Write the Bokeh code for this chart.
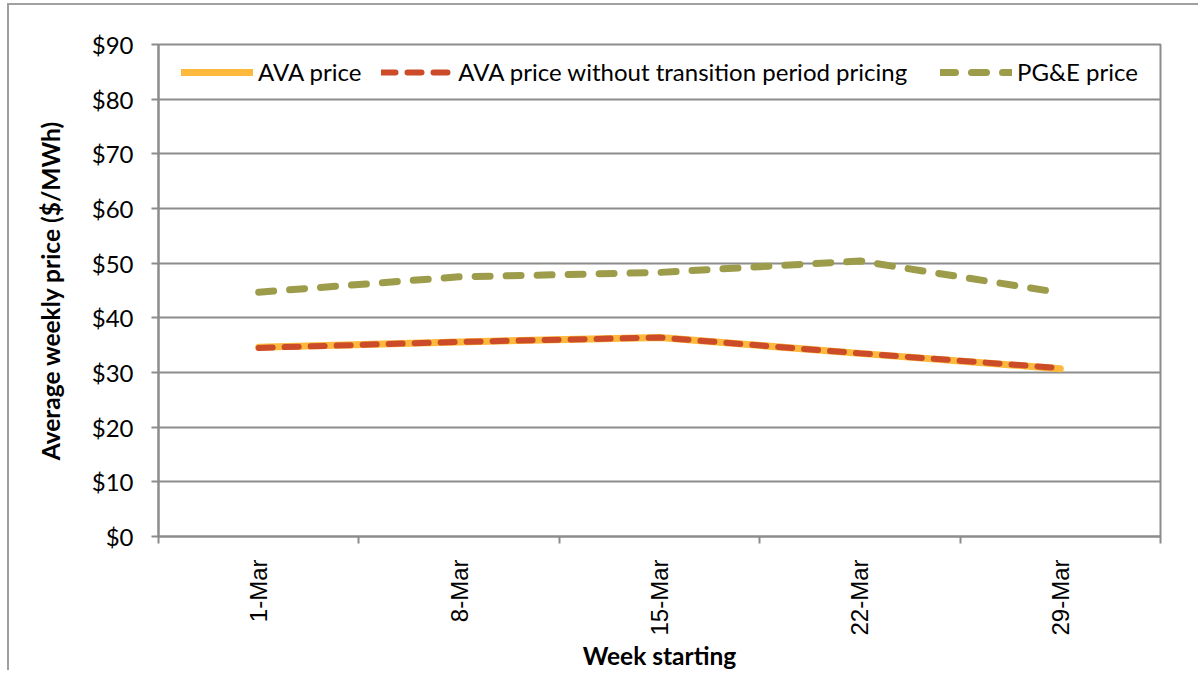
import math
from bokeh.plotting import figure
from bokeh.models import Range1d, FixedTicker, NumeralTickFormatter, Legend, LegendItem, ColumnDataSource
from bokeh.embed import file_html
from bokeh.resources import INLINE

weeks = ["1-Mar", "8-Mar", "15-Mar", "22-Mar", "29-Mar"]
ava_price = [34.6, 35.6, 36.4, 33.5, 30.7]
ava_no_transition = [34.5, 35.6, 36.4, 33.5, 30.8]
pge_price = [44.7, 47.5, 48.3, 50.4, 44.6]
y_ticks = [0, 10, 20, 30, 40, 50, 60, 70, 80, 90]

xs = [i + 0.5 for i in range(len(weeks))]
src = ColumnDataSource(dict(x=xs, ava=ava_price, avn=ava_no_transition, pge=pge_price))

GRAY = "#8c8c8c"
FONT = "Lato"

p = figure(width=1191, height=667, output_backend="svg", toolbar_location=None,
           x_range=Range1d(0, len(weeks)), y_range=Range1d(0, 90),
           min_border_left=149, min_border_right=40, min_border_top=39, min_border_bottom=135)
p.styles = {"margin-left": "7px", "margin-top": "3px",
            "border-left": "2px solid #a0a0a0", "border-top": "2px solid #a0a0a0"}

p.outline_line_color = GRAY
p.outline_line_width = 2
p.xgrid.grid_line_color = None
p.ygrid.grid_line_color = GRAY
p.ygrid.grid_line_width = 2
p.ygrid.ticker = FixedTicker(ticks=y_ticks)

# y axis
yax = p.yaxis[0]
yax.ticker = FixedTicker(ticks=y_ticks)
yax.formatter = NumeralTickFormatter(format="$0")
yax.axis_line_color = GRAY
yax.axis_line_width = 2
yax.major_tick_line_color = GRAY
yax.major_tick_line_width = 2
yax.major_tick_in = 0
yax.major_tick_out = 7
yax.minor_tick_line_color = None
yax.major_label_standoff = 18
yax.major_label_text_font = FONT
yax.major_label_text_font_size = "24px"
yax.major_label_text_color = "#000000"
yax.axis_label = "Average weekly price ($/MWh)"
yax.axis_label_text_font = FONT
yax.axis_label_text_font_style = "bold"
yax.axis_label_text_font_size = "24.5px"
yax.axis_label_text_color = "#000000"
yax.axis_label_standoff = 24

# x axis
xax = p.xaxis[0]
xax.ticker = FixedTicker(ticks=xs, minor_ticks=list(range(len(weeks) + 1)))
xax.major_label_overrides = {x: w for x, w in zip(xs, weeks)}
xax.major_label_orientation = math.pi / 2
xax.axis_line_color = GRAY
xax.axis_line_width = 2
xax.major_tick_line_color = None
xax.major_tick_in = 0
xax.major_tick_out = 0
xax.minor_tick_line_color = GRAY
xax.minor_tick_line_width = 2
xax.minor_tick_in = 0
xax.minor_tick_out = 7
xax.major_label_standoff = 16
xax.major_label_text_font = "Liberation Sans"
xax.major_label_text_font_size = "24px"
xax.major_label_text_color = "#000000"
xax.axis_label = "Week starting"
xax.axis_label_text_font = FONT
xax.axis_label_text_font_style = "bold"
xax.axis_label_text_font_size = "24.5px"
xax.axis_label_text_color = "#000000"
xax.axis_label_standoff = 2

r1 = p.line("x", "ava", source=src, line_color="#FDB93C", line_width=7, line_cap="round", line_join="round")
r2 = p.line("x", "avn", source=src, line_color="#CC4B28", line_width=6, line_cap="round", line_join="round",
            line_dash="14 12")
r3 = p.line("x", "pge", source=src, line_color="#9C9C4A", line_width=7, line_cap="round", line_join="round",
            line_dash="15 16")


def make_legend(items, loc):
    lg = Legend(items=items, orientation="horizontal", location=loc)
    lg.margin = 0
    lg.padding = 6
    lg.spacing = 20
    lg.glyph_width = 72
    lg.glyph_height = 20
    lg.label_standoff = 5
    lg.label_text_font = FONT
    lg.label_text_font_size = "24px"
    lg.label_text_color = "#000000"
    lg.border_line_color = None
    lg.background_fill_color = "white"
    lg.background_fill_alpha = 1.0
    return lg


legend1 = make_legend([
    LegendItem(label="AVA price", renderers=[r1]),
    LegendItem(label="AVA price without transition period pricing", renderers=[r2]),
], (23, 450))
legend2 = make_legend([
    LegendItem(label="PG&E price", renderers=[r3]),
], (782, 450))
p.add_layout(legend1, "center")
p.add_layout(legend2, "center")

open("out.html", "w").write(file_html(p, INLINE))
